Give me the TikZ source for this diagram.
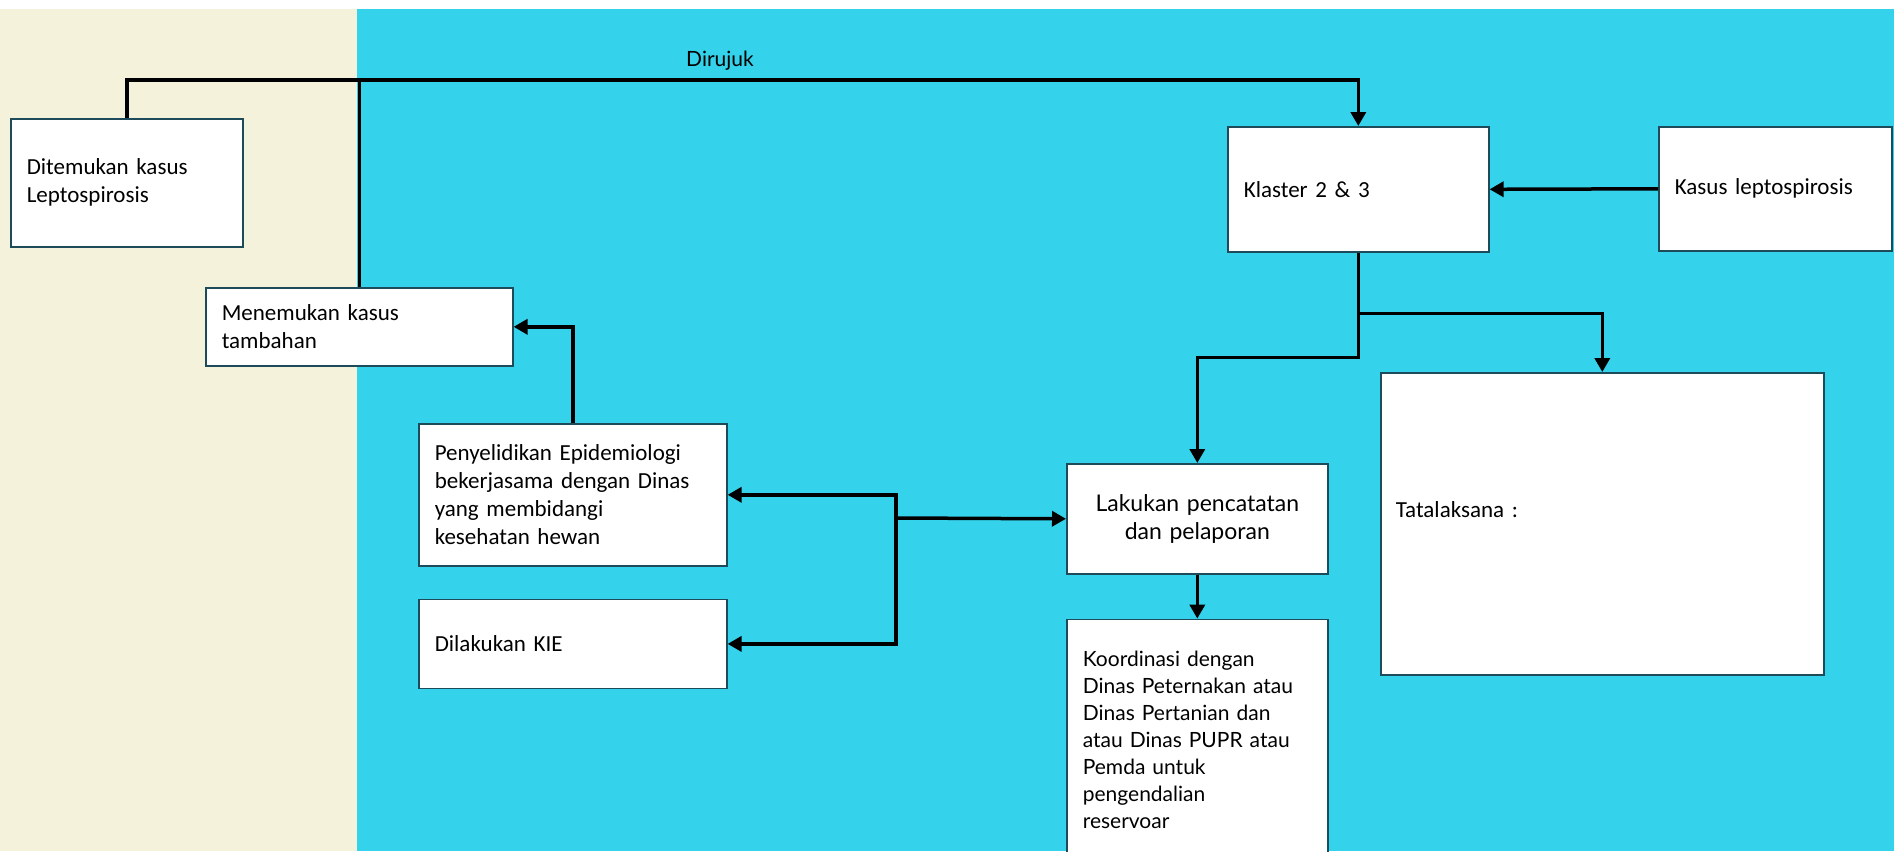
\documentclass[tikz,border=0pt]{standalone}
\usepackage{fontspec}
\setmainfont{Carlito}
\newfontfamily\latofont{Lato}
\usetikzlibrary{positioning, arrows.meta}
\definecolor{sandbg}{HTML}{F5F2DC}
\definecolor{skybg}{HTML}{34D3EB}
\definecolor{boxedge}{HTML}{1E4B5A}

\begin{document}
\begin{tikzpicture}[
    x=1pt, y=-1pt,
    font=\fontsize{23}{28}\selectfont,
    stage/.style={
        draw=boxedge, line width=1.6pt, fill=white, anchor=north west,
        inner xsep=16pt, inner ysep=0pt, align=left
    },
    softstage/.style={stage, font=\latofont\fontsize{21}{27}\selectfont},
    link/.style={line width=3.5pt, draw=black},
    arrow/.style={link, -{Triangle[length=14pt, width=15pt]}},
    label/.style={font=\latofont\fontsize{21}{24}\selectfont}
]

\useasboundingbox (0,0) rectangle (1894,851);
\fill[sandbg] (0,9) rectangle (357,851);
\fill[skybg] (357,9) rectangle (1894,851);

\node[stage, text width=200pt, minimum height=128pt] (found) at (10,118)
     {Ditemukan kasus\\Leptospirosis};
\node[stage, text width=275pt, minimum height=78pt] (extra) at (205,287)
     {Menemukan kasus\\tambahan};
\node[stage, text width=276pt, minimum height=142pt] (epi) at (418,423)
     {Penyelidikan Epidemiologi\\bekerjasama dengan Dinas\\yang membidangi\\kesehatan hewan};
\node[stage, text width=276pt, minimum height=89pt, anchor=north, below=32pt of epi] (kie)
     {Dilakukan KIE};

\node[softstage, text width=229pt, minimum height=110pt, align=center,
      font=\latofont\fontsize{23}{28}\selectfont] (report) at (1066,463)
     {Lakukan pencatatan\\dan pelaporan};
\node[softstage, text width=229pt, minimum height=240pt, anchor=north, below=44pt of report] (coord)
     {Koordinasi dengan\\Dinas Peternakan atau\\Dinas Pertanian dan\\atau Dinas PUPR atau\\Pemda untuk\\pengendalian\\reservoar};

\node[stage, text width=229pt, minimum height=125pt] (cluster) at (1227,126) {Klaster 2 \& 3};
\node[stage, text width=201pt, minimum height=124pt] (cases) at (1658,126) {Kasus leptospirosis};
\node[stage, text width=413pt, minimum height=302pt, inner xsep=15pt] (treat) at (1380,372)
     {\raisebox{14pt}[\height][\depth]{Tatalaksana :}};

\coordinate (bus) at (720,80);
\coordinate (fork) at (896,518);
\node[label, above=6pt of bus] (referred) {Dirujuk};

\draw[arrow] (found.north) -- (found.north |- bus) -- (bus -| cluster.north) -- (cluster.north);
\draw[link] (extra.north) -- (extra.north |- bus);
\draw[arrow] (epi.north) |- (extra.east);
\draw[arrow] (fork) -- (report.west);
\draw[arrow] (fork) |- (epi.east);
\draw[arrow] (fork) |- (kie.east);
\draw[arrow] (cases.west) -- (cluster.east);
\draw[arrow] (cluster.south) -- ++(0,105) -| (report.north);
\draw[arrow] (cluster.south) -- ++(0,61) -| (treat.north);
\draw[arrow] (report.south) -- (coord.north);

\end{tikzpicture}
\end{document}
